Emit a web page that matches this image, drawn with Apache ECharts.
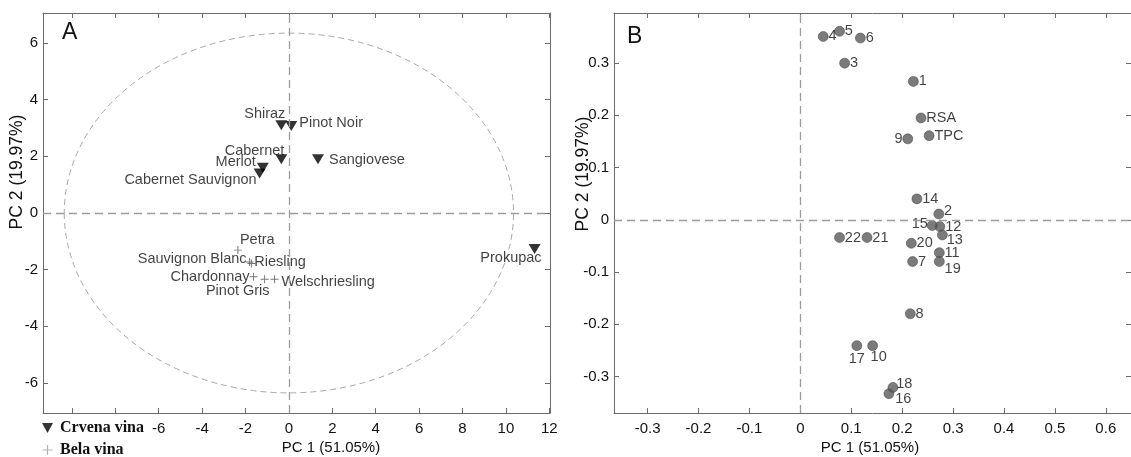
<!DOCTYPE html>
<html><head><meta charset="utf-8">
<script src="https://cdn.jsdelivr.net/npm/echarts@6/dist/echarts.min.js"></script>
<style>html,body{margin:0;padding:0;background:#fff}#c{width:1131px;height:457px}</style>
</head><body><div id="c"></div>
<script>
// ---------- data ----------
const redNames = ['Shiraz','Pinot Noir','Cabernet','Merlot','Cabernet Sauvignon','Sangiovese','Prokupac'];
const redPC1   = [-0.35, 0.11, -0.35, -1.20, -1.35, 1.34, 11.32];
const redPC2   = [3.10, 3.07, 1.90, 1.60, 1.39, 1.90, -1.27];

const whiteNames = ['Petra','Sauvignon Blanc','Riesling','Chardonnay','Pinot Gris','Welschriesling'];
const whitePC1   = [-2.35, -1.81, -1.73, -1.63, -1.12, -0.66];
const whitePC2   = [-1.31, -1.73, -1.78, -2.25, -2.34, -2.34];

const loadNames = ['1','2','3','4','5','6','7','8','9','10','11','12','13','14','15','16','17','18','19','20','21','22','RSA','TPC'];
const loadPC1 = [0.222,0.272,0.087,0.045,0.077,0.118,0.2205,0.216,0.211,0.142,0.273,0.274,0.279,0.229,0.259,0.174,0.111,0.182,0.273,0.218,0.131,0.077,0.237,0.253];
const loadPC2 = [0.265,0.011,0.300,0.351,0.361,0.348,-0.080,-0.180,0.155,-0.241,-0.063,-0.013,-0.029,0.040,-0.011,-0.333,-0.241,-0.321,-0.080,-0.045,-0.034,-0.034,0.195,0.161];

// confidence ellipse (centre x, centre y, semi-axis x, semi-axis y)
const ellipse = [0, 0, 10.35, 6.35];

// tick values / labels
const leftXTicks  = [-10,-8,-6,-4,-2,0,2,4,6,8,10,12];
const leftXLabels = [-6,-4,-2,0,2,4,6,8,10,12];
const leftYTicks  = [-6,-4,-2,0,2,4,6];
const rightXTicks = [-0.3,-0.2,-0.1,0,0.1,0.2,0.3,0.4,0.5,0.6];
const rightYTicks = [-0.3,-0.2,-0.1,0,0.1,0.2,0.3];

const seriesNames = ['Crvena vina','Bela vina'];
const panelLetters = ['A','B'];
const axisTitles = ['PC 1 (51.05%)','PC 2 (19.97%)'];

// ---------- label placement (layout only) ----------
const leftLabelPos = {
  'Shiraz':['left',10,-11], 'Pinot Noir':['right',2,-3], 'Cabernet':['left',9,-8],
  'Merlot':['left',-1,-6], 'Cabernet Sauvignon':['left',3,6], 'Sangiovese':['right',5,1],
  'Prokupac':['left',13,9],
  'Petra':['right',-2,-10], 'Sauvignon Blanc':['left',1,-3], 'Riesling':['right',-1,-1],
  'Chardonnay':['left',0,0], 'Pinot Gris':['left',9,12], 'Welschriesling':['right',3,3]
};
const rightLabelPos = {
  '15':['left',1,-2], '17':['bottom',0,1], '10':['bottom',6,-1], '19':['right',0,7],
  '13':['right',-1,5], '2':['right',0,-3], '18':['right',-2,-3], '16':['right',1,5],
  '9':['left',0,0]
};

const FONT = 'Liberation Sans, Arial, sans-serif';
const AX = '#6b6b6b';
const TXT = '#111';

function pts(names, xs, ys, posMap, defPos) {
  return names.map((n, i) => {
    const p = posMap[n] || [defPos, 0, 0];
    return { name: n, value: [xs[i], ys[i]],
      label: { position: p[0], offset: [p[1], p[2]] } };
  });
}

function axisCommon(extra) {
  return Object.assign({
    type: 'value',
    axisLine: { onZero: false, lineStyle: { color: AX, width: 1 } },
    axisTick: { inside: true, length: 5, lineStyle: { color: AX } },
    splitLine: { show: false },
    axisLabel: { color: TXT, fontFamily: FONT, fontSize: 15 }
  }, extra);
}
const fmt1 = v => String(Math.round(v * 10) / 10);
const fmt0 = v => String(Math.round(v));

const triPath = 'path://M0,0L10,0L5,9Z';
const plusPath = 'path://M4.4,0H5.6V4.4H10V5.6H5.6V10H4.4V5.6H0V4.4H4.4Z';

const zeroLine = {
  silent: true, symbol: 'none', label: { show: false },
  lineStyle: { color: '#9c9c9c', type: [8, 5], width: 1.3 },
  data: [{ xAxis: 0 }, { yAxis: 0 }]
};
const tickStyle = { inside: true, length: 5, lineStyle: { color: AX } };
const labStyle = { color: TXT, fontFamily: FONT, fontSize: 15 };

const chart = echarts.init(document.getElementById('c'), null, { renderer: 'canvas' });
chart.setOption({
  animation: false,
  backgroundColor: '#fff',
  grid: [
    { left: 43, top: 13, width: 507, height: 400 },
    { left: 614, top: 13, width: 525, height: 400 }
  ],
  xAxis: [
    axisCommon({ gridIndex: 0, min: -11.33, max: 12.03, position: 'bottom',
      axisTick: Object.assign({ customValues: leftXTicks }, tickStyle),
      axisLabel: Object.assign({ margin: 8, customValues: leftXLabels, formatter: fmt0 }, labStyle) }),
    axisCommon({ gridIndex: 0, min: -11.33, max: 12.03, position: 'top',
      axisTick: Object.assign({ customValues: leftXTicks }, tickStyle),
      axisLabel: { show: false } }),
    axisCommon({ gridIndex: 1, min: -0.366, max: 0.6495, position: 'bottom',
      axisTick: Object.assign({ customValues: rightXTicks }, tickStyle),
      axisLabel: Object.assign({ margin: 8, customValues: rightXTicks, formatter: fmt1 }, labStyle) }),
    axisCommon({ gridIndex: 1, min: -0.366, max: 0.6495, position: 'top',
      axisTick: Object.assign({ customValues: rightXTicks }, tickStyle),
      axisLabel: { show: false } })
  ],
  yAxis: [
    axisCommon({ gridIndex: 0, min: -7.06, max: 7.06, position: 'left',
      axisTick: Object.assign({ customValues: leftYTicks }, tickStyle),
      axisLabel: Object.assign({ margin: 5, customValues: leftYTicks, formatter: fmt0 }, labStyle) }),
    axisCommon({ gridIndex: 0, min: -7.06, max: 7.06, position: 'right',
      axisTick: Object.assign({ customValues: leftYTicks }, tickStyle),
      axisLabel: { show: false } }),
    axisCommon({ gridIndex: 1, min: -0.37, max: 0.396, position: 'left',
      axisTick: Object.assign({ customValues: rightYTicks }, tickStyle),
      axisLabel: Object.assign({ margin: 5, customValues: rightYTicks, formatter: fmt1 }, labStyle) }),
    axisCommon({ gridIndex: 1, min: -0.37, max: 0.396, position: 'right',
      axisTick: Object.assign({ customValues: rightYTicks }, tickStyle),
      axisLabel: { show: false } })
  ],
  legend: {
    orient: 'vertical', left: 42, top: 420, height: 80, itemGap: 6, itemWidth: 11, itemHeight: 10,
    padding: 0, selectedMode: false,
    textStyle: { fontFamily: 'Liberation Serif, Times New Roman, serif', fontWeight: 'bold', fontSize: 16, color: '#111', padding: [0, 0, 0, 2] },
    data: [
      { name: seriesNames[0], icon: triPath, itemStyle: { color: '#000' } },
      { name: seriesNames[1], icon: plusPath, itemStyle: { color: '#a0a0a0' } }
    ]
  },
  graphic: [
    { type: 'text', left: 62, top: 21, style: { text: panelLetters[0], font: '23px ' + FONT, fill: '#111' } },
    { type: 'text', left: 627, top: 25, style: { text: panelLetters[1], font: '23px ' + FONT, fill: '#111' } },
    { type: 'text', x: 331, y: 448, style: { text: axisTitles[0], font: '15px ' + FONT, fill: TXT, textAlign: 'center', textVerticalAlign: 'middle' } },
    { type: 'text', x: 870, y: 448, style: { text: axisTitles[0], font: '15px ' + FONT, fill: TXT, textAlign: 'center', textVerticalAlign: 'middle' } },
    { type: 'text', x: 17, y: 172, rotation: Math.PI / 2, style: { text: axisTitles[1], font: '17.5px ' + FONT, fill: TXT, textAlign: 'center', textVerticalAlign: 'middle' } },
    { type: 'text', x: 583, y: 174, rotation: Math.PI / 2, style: { text: axisTitles[1], font: '17.5px ' + FONT, fill: TXT, textAlign: 'center', textVerticalAlign: 'middle' } }
  ],
  series: [
    {
      type: 'custom', xAxisIndex: 0, yAxisIndex: 0, silent: true, z: 1,
      data: [ellipse],
      renderItem: function (params, api) {
        const c = api.coord([api.value(0), api.value(1)]);
        const s = api.size([api.value(2), api.value(3)]);
        const rx = s[0], ry = s[1];
        const d = 'M' + (c[0] - rx) + ' ' + c[1] +
          ' A' + rx + ' ' + ry + ' 0 1 0 ' + (c[0] + rx) + ' ' + c[1] +
          ' A' + rx + ' ' + ry + ' 0 1 0 ' + (c[0] - rx) + ' ' + c[1] + ' Z';
        return { type: 'path',
          shape: { pathData: d, x: c[0] - rx, y: c[1] - ry, width: 2 * rx, height: 2 * ry, layout: 'cover' },
          style: { fill: 'none', stroke: '#a8a8a8', lineWidth: 1, lineDash: [6, 4] } };
      },
      markLine: zeroLine
    },
    {
      name: seriesNames[0], type: 'scatter', xAxisIndex: 0, yAxisIndex: 0, z: 3,
      symbol: triPath, symbolSize: [12, 10], itemStyle: { color: '#000' },
      label: { show: true, formatter: '{b}', distance: 0, color: TXT, fontFamily: FONT, fontSize: 14.5 },
      data: pts(redNames, redPC1, redPC2, leftLabelPos, 'right')
    },
    {
      name: seriesNames[1], type: 'scatter', xAxisIndex: 0, yAxisIndex: 0, z: 3,
      symbol: plusPath, symbolSize: 8, itemStyle: { color: '#555' },
      label: { show: true, formatter: '{b}', distance: 0, color: TXT, fontFamily: FONT, fontSize: 14.5 },
      data: pts(whiteNames, whitePC1, whitePC2, leftLabelPos, 'right')
    },
    {
      name: 'loadings', type: 'scatter', xAxisIndex: 2, yAxisIndex: 2, z: 3,
      symbol: 'circle', symbolSize: 10, itemStyle: { color: '#5a5a5a', borderColor: '#3a3a3a', borderWidth: 0.6 },
      label: { show: true, formatter: '{b}', distance: 0, color: TXT, fontFamily: FONT, fontSize: 14.5 },
      data: pts(loadNames, loadPC1, loadPC2, rightLabelPos, 'right'),
      markLine: zeroLine
    }
  ]
});
</script>
</body></html>
